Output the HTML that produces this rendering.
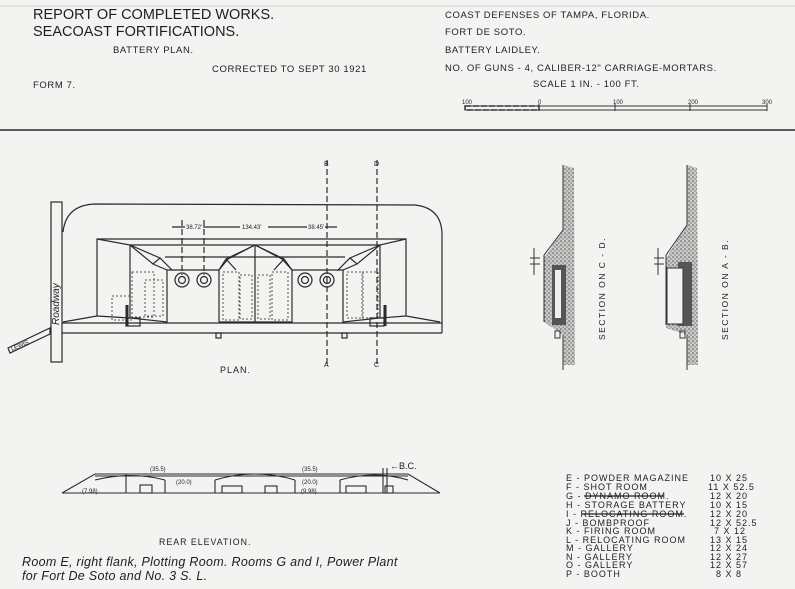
<!DOCTYPE html>
<html><head><meta charset="utf-8"><style>
html,body{margin:0;padding:0;background:#f3f3f1;}
svg{display:block;}
text{font-family:"Liberation Sans",sans-serif;fill:#1e1e1e;}
.h{font-size:14.5px;}
.s{font-size:9.5px;letter-spacing:0.6px;}
.l{font-size:9px;letter-spacing:1px;}
.hw{font-family:"Liberation Sans",sans-serif;font-style:italic;font-size:12.5px;letter-spacing:0.3px;}
</style></head><body>
<svg width="795" height="589" viewBox="0 0 795 589" xmlns="http://www.w3.org/2000/svg">
<rect width="795" height="589" fill="#f3f3f1"/>
<line x1="0" y1="6" x2="795" y2="6" stroke="#ccc" stroke-width="1"/>
<text class="h" x="33" y="19">REPORT OF COMPLETED WORKS.</text>
<text class="h" x="33" y="36">SEACOAST FORTIFICATIONS.</text>
<text class="s" x="113" y="53">BATTERY PLAN.</text>
<text class="s" x="212" y="72">CORRECTED TO SEPT  30  1921</text>
<text class="s" x="33" y="88">FORM 7.</text>
<text class="s" x="445" y="18">COAST DEFENSES OF TAMPA, FLORIDA.</text>
<text class="s" x="445" y="35">FORT DE SOTO.</text>
<text class="s" x="445" y="53">BATTERY LAIDLEY.</text>
<text class="s" x="445" y="71">NO. OF GUNS - 4, CALIBER-12" CARRIAGE-MORTARS.</text>
<text class="s" x="533" y="87">SCALE 1 IN. - 100 FT.</text>
<text x="462" y="104" style="font-size:6px">100</text><text x="538" y="104" style="font-size:6px">0</text>
<text x="613" y="104" style="font-size:6px">100</text><text x="688" y="104" style="font-size:6px">200</text><text x="762" y="104" style="font-size:6px">300</text>
<rect x="465" y="106" width="302" height="4" fill="none" stroke="#333" stroke-width="1"/>
<rect x="465" y="106" width="74" height="4" fill="none" stroke="#333" stroke-width="1.5" stroke-dasharray="6 2"/>
<line x1="539" y1="104" x2="539" y2="111" stroke="#333"/><line x1="615" y1="104" x2="615" y2="111" stroke="#333"/><line x1="690" y1="104" x2="690" y2="111" stroke="#333"/><line x1="767" y1="104" x2="767" y2="111" stroke="#333"/>
<line x1="0" y1="130" x2="795" y2="130" stroke="#444" stroke-width="1.8"/>

<g stroke="#2a2a2a" fill="none" stroke-width="1.2">
<rect x="51" y="202" width="11" height="160" fill="#f3f3f1"/>
<text x="0" y="0" transform="translate(59,325) rotate(-90)" style="font-size:10px;font-style:italic;stroke:none">Roadway</text>
<polygon points="8,348 50,328 50,334 10,353" fill="#f3f3f1"/>
<text x="0" y="0" transform="translate(12,351) rotate(-24)" style="font-size:6px;stroke:none">LEWIS</text>
<path d="M63,232 Q66,205 95,204 L415,205 Q442,208 442,235 L442,333"/>
<line x1="62" y1="323" x2="442" y2="323"/>
<line x1="62" y1="333" x2="442" y2="333"/>
<polyline points="63,322 97,316 97,239 406,239 406,316 440,322"/>
<line x1="97" y1="239" x2="130" y2="245"/><line x1="406" y1="239" x2="380" y2="245"/>
<line x1="130" y1="245" x2="380" y2="245"/>
<line x1="165" y1="257" x2="345" y2="257"/>
<line x1="172" y1="270" x2="219" y2="270"/><line x1="292" y1="270" x2="340" y2="270"/>
<polyline points="130,245 130,318 167,322 167,270 172,270 160,258 153,264 130,245"/>
<line x1="130" y1="245" x2="160" y2="258"/><line x1="153" y1="264" x2="167" y2="270"/>
<line x1="97" y1="316" x2="130" y2="318"/>
<polyline points="219,322 219,270 228,259 255,245 282,259 292,270 292,322 219,322"/>
<line x1="255" y1="245" x2="255" y2="322"/>
<polyline points="219,270 226,259 236,270"/><polyline points="292,270 284,259 274,270"/>
<line x1="255" y1="245" x2="226" y2="259"/><line x1="255" y1="245" x2="284" y2="259"/>
<polyline points="380,245 380,318 343,322 343,270 338,270 350,258 357,264 380,245"/>
<line x1="380" y1="245" x2="350" y2="258"/><line x1="357" y1="264" x2="343" y2="270"/>
<line x1="406" y1="316" x2="380" y2="318"/>
<g stroke-dasharray="2 2" stroke="#555" stroke-width="1">
<rect x="132" y="272" width="22" height="45"/><rect x="145" y="280" width="18" height="36"/>
<rect x="223" y="272" width="16" height="48"/><rect x="240" y="275" width="12" height="44"/>
<rect x="258" y="275" width="12" height="44"/><rect x="272" y="272" width="16" height="48"/>
<rect x="347" y="272" width="16" height="46"/><rect x="362" y="272" width="16" height="46"/>
<rect x="112" y="296" width="20" height="24"/>
</g>
<rect x="126" y="318" width="14" height="8"/><rect x="370" y="318" width="14" height="8"/>
<line x1="127" y1="305" x2="127" y2="326" stroke-width="3"/><line x1="385" y1="305" x2="385" y2="326" stroke-width="3"/>
<circle cx="182" cy="280" r="7"/><circle cx="182" cy="280" r="3.5"/>
<circle cx="204" cy="280" r="7"/><circle cx="204" cy="280" r="3.5"/>
<circle cx="305" cy="280" r="7"/><circle cx="305" cy="280" r="3.5"/>
<circle cx="327" cy="280" r="7"/><circle cx="327" cy="280" r="3.5"/>
<rect x="216" y="333" width="5" height="5"/><rect x="342" y="333" width="5" height="5"/>
<g stroke-dasharray="6 3">
<line x1="182" y1="220" x2="182" y2="275"/><line x1="204" y1="220" x2="204" y2="275"/>
<line x1="327" y1="160" x2="327" y2="365"/><line x1="377" y1="160" x2="377" y2="365"/>
</g>
<line x1="172" y1="227" x2="337" y2="227"/>
</g>
<rect x="185" y="222" width="18" height="9" fill="#f3f3f1"/><text x="186" y="229" style="font-size:6px">38.72'</text>
<rect x="240" y="222" width="28" height="9" fill="#f3f3f1"/><text x="242" y="229" style="font-size:6px">134.43'</text>
<rect x="307" y="222" width="18" height="9" fill="#f3f3f1"/><text x="308" y="229" style="font-size:6px">38.45'</text>
<text x="324" y="166" style="font-size:7px">B</text><text x="374" y="166" style="font-size:7px">D</text>
<text x="324" y="367" style="font-size:7px">A</text><text x="374" y="367" style="font-size:7px">C</text>
<text x="220" y="373" style="font-size:9px;letter-spacing:1px">PLAN.</text>

<defs><pattern id="st" width="4" height="4" patternUnits="userSpaceOnUse"><rect width="4" height="4" fill="#c9c9c7"/><circle cx="1" cy="1" r="0.8" fill="#555"/><circle cx="3" cy="3" r="0.7" fill="#777"/></pattern></defs>
<path d="M563,165 L574,168 L575,365 L563,365 L563,335 L544,322 L544,258 L563,230 Z" fill="url(#st)" stroke="none"/>
<line x1="563" y1="165" x2="563" y2="230" stroke="#333"/><line x1="563" y1="230" x2="544" y2="255" stroke="#333"/><line x1="544" y1="255" x2="544" y2="322" stroke="#333"/><line x1="563" y1="335" x2="563" y2="370" stroke="#333"/>
<rect x="552" y="265" width="14" height="60" fill="#555"/><rect x="555" y="270" width="6" height="48" fill="#eee"/>
<rect x="555" y="331" width="5" height="7" fill="none" stroke="#333"/>
<path d="M687,165 L697,168 L698,365 L687,365 L687,335 L666,328 L666,258 L687,225 Z" fill="url(#st)" stroke="none"/>
<line x1="687" y1="165" x2="687" y2="225" stroke="#333"/><line x1="687" y1="225" x2="666" y2="255" stroke="#333"/><line x1="666" y1="255" x2="666" y2="325" stroke="#333"/><line x1="687" y1="335" x2="687" y2="370" stroke="#333"/>
<rect x="678" y="262" width="14" height="64" fill="#555"/>
<polygon points="667,268 683,268 683,324 667,324" fill="#f3f3f1" stroke="#333"/>
<rect x="680" y="331" width="5" height="7" fill="none" stroke="#333"/>
<g stroke="#333"><line x1="534" y1="248" x2="534" y2="275"/><line x1="530" y1="258" x2="540" y2="258"/><line x1="530" y1="264" x2="540" y2="264"/>
<line x1="658" y1="248" x2="658" y2="275"/><line x1="654" y1="258" x2="664" y2="258"/><line x1="654" y1="264" x2="664" y2="264"/></g>
<text transform="translate(605,340) rotate(-90)" style="font-size:8.5px;letter-spacing:1.5px">SECTION ON C - D.</text>
<text transform="translate(728,340) rotate(-90)" style="font-size:8.5px;letter-spacing:1.5px">SECTION ON A - B.</text>

<g stroke="#2a2a2a" fill="none" stroke-width="1.1">
<line x1="62" y1="493" x2="440" y2="493"/>
<polyline points="62,493 95,474 408,474 440,493"/>
<line x1="95" y1="476" x2="408" y2="476"/>
<path d="M95,480 Q130,471 165,480 M215,480 Q255,468 295,480 M340,480 Q375,470 408,480"/>
<line x1="126" y1="474" x2="126" y2="493"/><line x1="165" y1="480" x2="165" y2="493"/><line x1="215" y1="480" x2="215" y2="493"/>
<line x1="295" y1="480" x2="295" y2="493"/><line x1="340" y1="480" x2="340" y2="493"/>
<line x1="383" y1="468" x2="383" y2="493"/><line x1="387" y1="468" x2="387" y2="493"/>
<rect x="140" y="485" width="12" height="8"/><rect x="222" y="486" width="20" height="7"/><rect x="265" y="486" width="12" height="7"/><rect x="346" y="486" width="20" height="7"/><rect x="385" y="486" width="8" height="7"/>
</g>
<text x="150" y="471" style="font-size:6px">(35.5)</text><text x="302" y="471" style="font-size:6px">(35.5)</text>
<text x="176" y="484" style="font-size:6px">(20.0)</text><text x="302" y="484" style="font-size:6px">(20.0)</text>
<text x="82" y="493" style="font-size:6px">(7.98)</text><text x="301" y="493" style="font-size:6px">(9.98)</text>
<text x="390" y="469" style="font-size:9px">←B.C.</text>
<text x="159" y="545" style="font-size:8.8px;letter-spacing:1px">REAR ELEVATION.</text>
<text class="hw" x="22" y="566">Room E, right flank, Plotting Room.  Rooms G and I, Power Plant</text>
<text class="hw" x="22" y="580">for Fort De Soto  and  No. 3  S. L.</text>

<text class="l" x="566" y="481">E - POWDER MAGAZINE</text><text class="l" x="710" y="481">10 X 25</text>
<text class="l" x="566" y="490">F - SHOT ROOM</text><text class="l" x="708" y="490">11 X 52.5</text>
<text class="l" x="566" y="499">G - DYNAMO ROOM.</text><text class="l" x="710" y="499">12 X 20</text>
<text class="l" x="566" y="508">H - STORAGE BATTERY</text><text class="l" x="710" y="508">10 X 15</text>
<text class="l" x="566" y="517">I - RELOCATING ROOM.</text><text class="l" x="710" y="517">12 X 20</text>
<text class="l" x="566" y="526">J - BOMBPROOF</text><text class="l" x="710" y="526">12 X 52.5</text>
<text class="l" x="566" y="534">K - FIRING ROOM</text><text class="l" x="714" y="534">7 X 12</text>
<text class="l" x="566" y="543">L - RELOCATING ROOM</text><text class="l" x="710" y="543">13 X 15</text>
<text class="l" x="566" y="551">M - GALLERY</text><text class="l" x="710" y="551">12 X 24</text>
<text class="l" x="566" y="560">N - GALLERY</text><text class="l" x="710" y="560">12 X 27</text>
<text class="l" x="566" y="568">O - GALLERY</text><text class="l" x="710" y="568">12 X 57</text>
<text class="l" x="566" y="577">P - BOOTH</text><text class="l" x="716" y="577">8 X 8</text>
<line x1="584" y1="496" x2="664" y2="496" stroke="#222" stroke-width="1.3"/>
<line x1="582" y1="514" x2="684" y2="514" stroke="#222" stroke-width="1.3"/>
</svg>
</body></html>
